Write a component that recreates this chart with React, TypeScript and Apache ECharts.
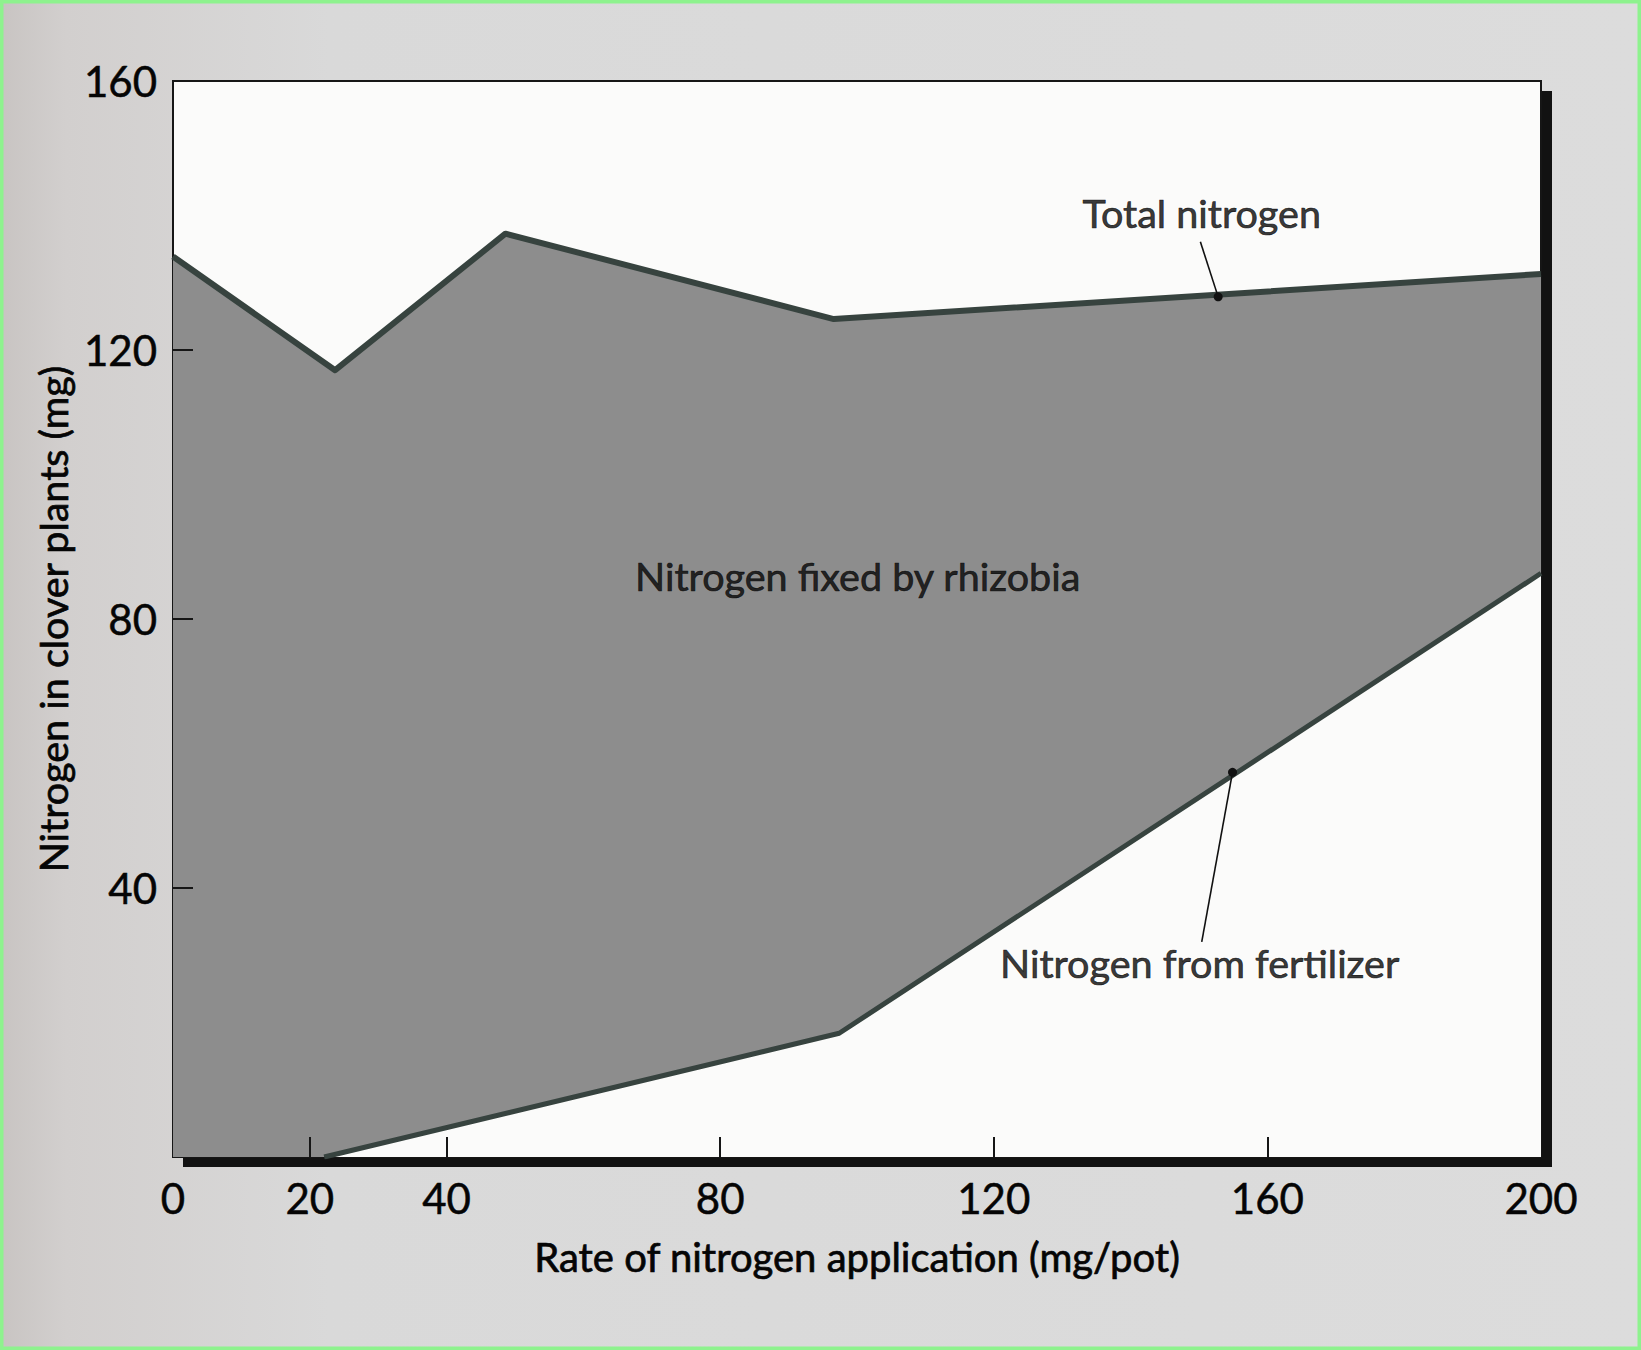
import React, { useEffect, useRef } from "react";
import * as echarts from "echarts";

// ---- data ----
const applicationRate = [0, 23.7, 48.6, 96.6, 200];
const totalNitrogen = [133.9, 117.0, 137.3, 124.6, 131.3];
const fertilizerRate = [22.1, 97.4, 200];
const fertilizerNitrogen = [0, 18.4, 86.8];

const xTickValues = [0, 20, 40, 80, 120, 160, 200];
const xTickMarks = [20, 40, 80, 120, 160];
const yTickValues = [40, 80, 120, 160];
const yTickMarks = [40, 80, 120];

const xAxisTitle = "Rate of nitrogen application (mg/pot)";
const yAxisTitle = "Nitrogen in clover plants (mg)";

const annotationTexts = ["Total nitrogen", "Nitrogen fixed by rhizobia", "Nitrogen from fertilizer"];
const annotationX = [150.4, 100.1, 150.1];
const annotationY = [140.5, 86.4, 28.9];

const totalLeaderX = [150.2, 152.8];
const totalLeaderY = [136.1, 127.9];
const fertLeaderX = [150.4, 154.9];
const fertLeaderY = [32.0, 57.2];

const FONT = "Lato";
const INK = "#050505";

export default function App() {
  const ref = useRef<HTMLDivElement>(null);

  useEffect(() => {
    document.body.style.margin = "0";
    if (!ref.current) return;
    const chart = echarts.init(ref.current, undefined, { renderer: "svg" });

    const gridLeft = 173;
    const gridTop = 81;
    const gridW = 1368;
    const gridH = 1076;

    const leader = (xs: number[], ys: number[]) => [
      [xs[0], ys[0]],
      { value: [xs[1], ys[1]], symbol: "circle", symbolSize: 9 },
    ];

    const heavy = { textBorderColor: INK, textBorderWidth: 0.7 };

    chart.setOption({
      animation: false,
      backgroundColor: {
        type: "linear",
        x: 0,
        y: 0,
        x2: 1,
        y2: 0,
        colorStops: [
          { offset: 0, color: "#c8c4c2" },
          { offset: 0.04, color: "#d2cfce" },
          { offset: 0.2, color: "#d9d9d9" },
          { offset: 1, color: "#dcdcdc" },
        ],
      },
      grid: {
        left: gridLeft,
        top: gridTop,
        width: gridW,
        height: gridH,
        show: true,
        backgroundColor: "#fbfbfa",
        borderColor: "#161616",
        borderWidth: 2,
      },
      graphic: [
        {
          type: "rect",
          z: -1,
          shape: { x: gridLeft + 10, y: gridTop + 10, width: gridW + 1, height: gridH },
          style: { fill: "#121212" },
        },
        {
          type: "rect",
          z: 100,
          shape: { x: 0, y: 0, width: 1641, height: 1350 },
          style: { fill: "none", stroke: "#8ef28e", lineWidth: 7 },
        },
      ],
      xAxis: {
        type: "value",
        z: 10,
        min: 0,
        max: 200,
        interval: 20,
        splitLine: { show: false },
        axisLine: { show: false },
        axisTick: {
          show: true,
          inside: true,
          length: 20,
          customValues: xTickMarks,
          lineStyle: { color: "#161616", width: 2 },
        },
        axisLabel: {
          customValues: xTickValues,
          fontSize: 42,
          fontFamily: FONT,
          color: INK,
          margin: 20,
          ...heavy,
          textBorderWidth: 0.5,
        },
        name: xAxisTitle,
        nameLocation: "middle",
        nameGap: 80,
        nameTextStyle: { fontSize: 40, fontFamily: FONT, color: INK, ...heavy },
      },
      yAxis: {
        type: "value",
        z: 10,
        min: 0,
        max: 160,
        interval: 40,
        splitLine: { show: false },
        axisLine: { show: false },
        axisTick: {
          show: true,
          inside: true,
          length: 20,
          customValues: yTickMarks,
          lineStyle: { color: "#161616", width: 2 },
        },
        axisLabel: {
          customValues: yTickValues,
          fontSize: 42,
          fontFamily: FONT,
          color: INK,
          margin: 16,
          ...heavy,
          textBorderWidth: 0.5,
        },
        name: yAxisTitle,
        nameLocation: "middle",
        nameGap: 93,
        nameTextStyle: { fontSize: 39.5, fontFamily: FONT, color: INK, ...heavy },
      },
      series: [
        {
          name: "Total nitrogen",
          type: "line",
          z: 2,
          symbol: "none",
          data: applicationRate.map((x, i) => [x, totalNitrogen[i]]),
          lineStyle: { color: "#37433f", width: 6, join: "round" },
          areaStyle: { color: "#8d8d8d", opacity: 1 },
        },
        {
          name: "Nitrogen from fertilizer",
          type: "line",
          z: 3,
          symbol: "none",
          data: fertilizerRate.map((x, i) => [x, fertilizerNitrogen[i]]),
          lineStyle: { color: "#37433f", width: 5, join: "round" },
          areaStyle: { color: "#fbfbfa", opacity: 1 },
        },
        {
          type: "line",
          z: 4,
          symbol: "none",
          showSymbol: true,
          data: leader(totalLeaderX, totalLeaderY),
          lineStyle: { color: "#111", width: 1.6 },
          itemStyle: { color: "#111" },
        },
        {
          type: "line",
          z: 4,
          symbol: "none",
          showSymbol: true,
          data: leader(fertLeaderX, fertLeaderY),
          lineStyle: { color: "#111", width: 1.6 },
          itemStyle: { color: "#111" },
        },
        {
          type: "scatter",
          z: 5,
          symbolSize: 1,
          itemStyle: { color: "rgba(0,0,0,0)" },
          data: annotationTexts.map((t, i) => ({ name: t, value: [annotationX[i], annotationY[i]] })),
          label: {
            show: true,
            position: "inside",
            formatter: (p: any) => p.name,
            fontSize: 39.5,
            fontFamily: FONT,
            color: INK,
            ...heavy,
          },
        },
      ],
    });

    return () => chart.dispose();
  }, []);

  return <div ref={ref} style={{ width: 1641, height: 1350 }} />;
}
